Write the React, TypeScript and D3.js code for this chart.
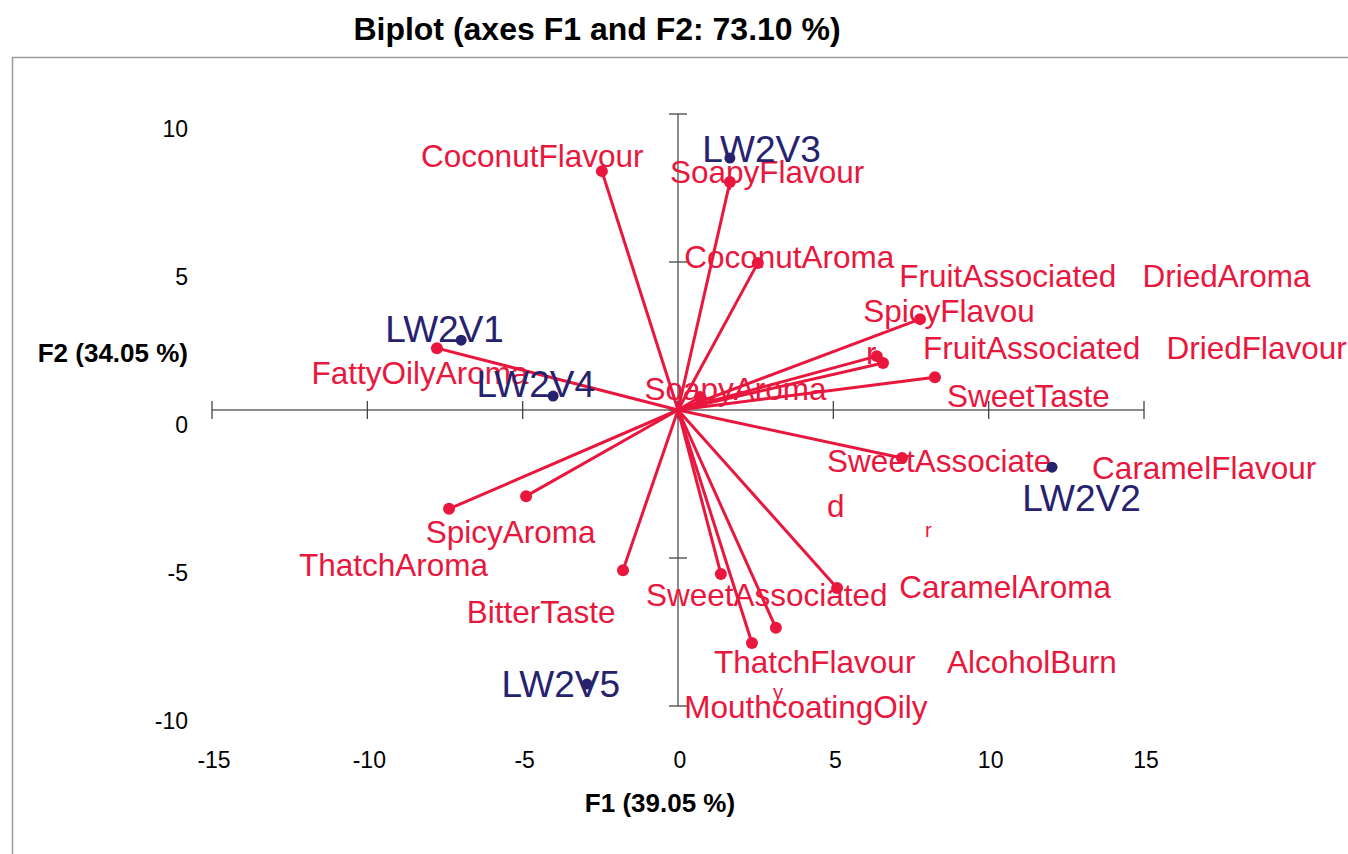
import React from "react";
import * as d3 from "d3";

// ---- Data ----
const xTicks = [-15, -10, -5, 0, 5, 10, 15];
const yTicks = [-10, -5, 0, 5, 10];

// Variables (red vectors): name, F1, F2
const variableNames = [
  "CoconutFlavour", "SoapyFlavour", "CoconutAroma", "SpicyFlavour",
  "FruitAssociatedDriedAroma", "FruitAssociatedDriedFlavour", "SweetTaste",
  "SoapyAroma", "FattyOilyAroma", "SweetAssociatedAroma", "ThatchAroma",
  "SpicyAroma", "BitterTaste", "SweetAssociatedFlavour", "CaramelAroma",
  "AlcoholBurn", "ThatchFlavour",
];
const variableF1 = [-2.45, 1.67, 2.57, 7.79, 6.40, 6.60, 8.27, 0.71, -7.76, 7.21, -7.37, -4.89, -1.77, 1.38, 5.12, 3.15, 2.38];
const variableF2 = [8.07, 7.70, 4.97, 3.07, 1.82, 1.59, 1.11, 0.44, 2.09, -1.62, -3.34, -2.91, -5.41, -5.54, -6.01, -7.36, -7.87];

// Observations (navy points)
const obsNames = ["LW2V1", "LW2V2", "LW2V3", "LW2V4", "LW2V5"];
const obsF1 = [-6.98, 12.04, 1.67, -4.02, -2.93];
const obsF2 = [2.36, -1.93, 8.51, 0.47, -9.26];

// Variable label texts as exported (with the wrapped fragments)
const varLabelTexts = [
  "CoconutFlavour", "SoapyFlavour", "CoconutAroma", "FruitAssociated   DriedAroma",
  "SpicyFlavou", "r", "FruitAssociated   DriedFlavour", "SweetTaste", "SoapyAroma",
  "FattyOilyAroma", "SweetAssociate", "d", "CaramelFlavour", "r", "SpicyAroma",
  "ThatchAroma", "BitterTaste", "SweetAssociated", "CaramelAroma", "ThatchFlavour",
  "AlcoholBurn", "MouthcoatingOily", "y",
];

// ---- Layout (label anchors in axis units, left/baseline) ----
const varLabelAnchors: [number, number][] = [
  [-8.27, 8.21], [-0.26, 7.67], [0.20, 4.80], [7.12, 4.16],
  [5.96, 2.97], [6.05, 1.55], [7.89, 1.72], [8.66, 0.10], [-1.08, 0.34],
  [-11.8, 0.88], [4.80, -2.09], [4.80, -3.61], [13.33, -2.33], [7.95, -4.29], [-8.12, -4.49],
  [-12.2, -5.61], [-6.80, -7.20], [-1.03, -6.62], [7.12, -6.35], [1.16, -8.89],
  [8.66, -8.89], [0.20, -10.41], [3.06, -9.76],
];
const varLabelSmall = [false, false, false, false, false, false, false, false, false,
  false, false, false, false, true, false, false, false, false, false, false, false, false, true];
const obsLabelAnchors: [number, number][] = [
  [-9.42, 2.30], [11.08, -3.41], [0.78, 8.38], [-6.49, 0.44], [-5.68, -9.70],
];

const RED = "#E9173D";
const NAVY = "#26226E";
const FONT = "'Liberation Sans', Arial, sans-serif";

export default function App() {
  const W = 1348;
  const H = 854;
  const x = d3.scaleLinear().domain([-15, 15]).range([212, 1144]);
  const y = d3.scaleLinear().domain([-10, 10]).range([706, 114]);

  const vars = variableNames.map((n, i) => ({ name: n, f1: variableF1[i], f2: variableF2[i] }));
  const obs = obsNames.map((n, i) => ({ name: n, f1: obsF1[i], f2: obsF2[i] }));

  return (
    <svg
      width={W}
      height={H}
      style={{ position: "absolute", left: 0, top: 0, background: "#fff" }}
      fontFamily={FONT}
    >
      <rect x={0} y={0} width={W} height={H} fill="#fff" />
      {/* frame */}
      <line x1={12} y1={57.5} x2={W} y2={57.5} stroke="#9a9a9a" strokeWidth={1.5} />
      <line x1={12.5} y1={57} x2={12.5} y2={H} stroke="#9a9a9a" strokeWidth={1.5} />

      {/* title */}
      <text x={597} y={40} textAnchor="middle" fontSize={32} fontWeight="bold" fill="#000">
        Biplot (axes F1 and F2: 73.10 %)
      </text>

      {/* axes */}
      <line x1={x(-15)} y1={y(0)} x2={x(15)} y2={y(0)} stroke="#666" strokeWidth={1.5} />
      <line x1={x(0)} y1={y(-10)} x2={x(0)} y2={y(10)} stroke="#666" strokeWidth={1.5} />
      {xTicks.map((t) => (
        <g key={"xt" + t}>
          <line x1={x(t)} y1={y(0) - 9} x2={x(t)} y2={y(0) + 9} stroke="#444" strokeWidth={1.3} />
          <text x={x(t) + 2} y={768} textAnchor="middle" fontSize={23} fill="#000">
            {t}
          </text>
        </g>
      ))}
      {yTicks.map((t) => (
        <g key={"yt" + t}>
          <line x1={x(0) - 9} y1={y(t)} x2={x(0) + 9} y2={y(t)} stroke="#444" strokeWidth={1.3} />
          <text x={188} y={y(t) + 23} textAnchor="end" fontSize={23} fill="#000">
            {t}
          </text>
        </g>
      ))}
      <text x={660} y={812} textAnchor="middle" fontSize={26} fontWeight="bold" fill="#000">
        F1 (39.05 %)
      </text>
      <text x={188} y={362} textAnchor="end" fontSize={26} fontWeight="bold" fill="#000">
        F2 (34.05 %)
      </text>

      {/* variable vectors */}
      {vars.map((v) => (
        <line key={"l" + v.name} x1={x(0)} y1={y(0)} x2={x(v.f1)} y2={y(v.f2)} stroke={RED} strokeWidth={3} />
      ))}
      {vars.map((v) => (
        <circle key={"c" + v.name} cx={x(v.f1)} cy={y(v.f2)} r={6} fill={RED} />
      ))}
      {varLabelTexts.map((t, i) => (
        <text
          key={"vl" + i}
          x={x(varLabelAnchors[i][0])}
          y={y(varLabelAnchors[i][1])}
          fontSize={varLabelSmall[i] ? 20 : 31.5}
          fill={RED}
          style={{ whiteSpace: "pre" }}
        >
          {t}
        </text>
      ))}

      {/* observations */}
      {obs.map((o) => (
        <circle key={"o" + o.name} cx={x(o.f1)} cy={y(o.f2)} r={5.5} fill={NAVY} />
      ))}
      {obsNames.map((n, i) => (
        <text key={"ol" + n} x={x(obsLabelAnchors[i][0])} y={y(obsLabelAnchors[i][1])} fontSize={37} fill={NAVY}>
          {n}
        </text>
      ))}
    </svg>
  );
}
